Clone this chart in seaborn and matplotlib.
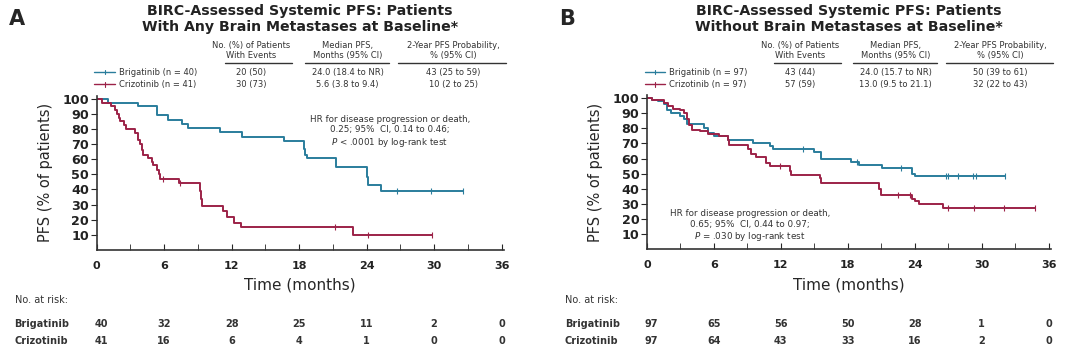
import numpy as np
import pandas as pd
import matplotlib
matplotlib.use("Agg")
import matplotlib.pyplot as plt
import matplotlib.transforms as mtrans
import seaborn as sns

# ---- data ----
# panel A: any brain metastases at baseline
a_brig_t = [0, 1.0, 3.7, 5.4, 6.3, 7.6, 8.1, 11.0, 12.9, 16.7, 18.4, 18.5, 18.7, 21.3, 24.0, 24.05, 24.1, 25.3, 32.6]
a_brig_s = [100, 97.5, 95, 89, 86, 83, 81, 78, 75, 72, 67, 63, 61, 55, 52, 48, 43, 39, 39]
a_brig_cens = [26.7, 29.7, 32.6]
a_criz_t = [0, 0.45, 1.3, 1.6, 1.8, 1.95, 2.1, 2.4, 2.6, 3.4, 3.7, 3.85, 4.0, 4.1, 4.6, 4.9, 5.0, 5.4, 5.5, 5.6, 7.3,
            9.2, 9.3, 9.4, 11.2, 11.6, 12.2, 12.8, 22.8, 29.8]
a_criz_s = [100, 97.5, 95, 92.5, 90, 87.5, 85, 82.5, 80, 77.5, 73, 70, 66, 63, 61, 58, 56, 53, 50, 47, 44,
            39, 34, 29, 26, 22, 18, 15, 10, 10]
a_criz_cens = [5.9, 7.4, 21.2, 24.1, 29.8]

# panel B: without brain metastases at baseline
b_brig_t = [0, 0.5, 1.0, 1.5, 1.8, 2.2, 3.0, 3.3, 3.6, 5.1, 5.5, 6.0, 7.3, 9.5, 11.0, 11.3, 15.0, 15.6,
            18.3, 19.0, 21.1, 21.4, 23.8, 24.0, 32.1]
b_brig_s = [100, 99, 98, 96, 92, 90, 88, 86, 83, 80, 77, 75, 72, 70, 68, 66, 64, 60,
            58, 56, 54, 53.5, 50, 48.5, 48.5]
b_brig_cens = [14.0, 18.8, 22.8, 26.8, 27.0, 27.9, 29.2, 29.5, 32.1]
b_criz_t = [0, 0.5, 1.5, 1.9, 2.3, 3.0, 3.3, 3.6, 3.8, 4.0, 4.8, 5.5, 6.5, 7.3, 7.4, 9.1, 9.3, 9.8, 10.7, 11.0,
            12.8, 12.9, 15.5, 15.6, 20.8, 21.0, 23.8, 24.0, 24.4, 26.5, 34.8]
b_criz_s = [100, 99, 97, 95, 93, 92, 90, 86, 82, 79, 78, 76, 75, 72, 69, 66, 63, 61, 57, 55,
            52, 49, 47, 44, 40, 36, 33, 32, 30, 27.5, 27.5]
b_criz_cens = [11.9, 22.5, 23.6, 27.0, 29.3, 32.0, 34.8]

risk_times = [0, 6, 12, 18, 24, 30, 36]
a_risk_brig = [40, 32, 28, 25, 11, 2, 0]
a_risk_criz = [41, 16, 6, 4, 1, 0, 0]
b_risk_brig = [97, 65, 56, 50, 28, 1, 0]
b_risk_criz = [97, 64, 43, 33, 16, 2, 0]

a_table = [["20 (50)", "24.0 (18.4 to NR)", "43 (25 to 59)"],
           ["30 (73)", "5.6 (3.8 to 9.4)", "10 (2 to 25)"]]
b_table = [["43 (44)", "24.0 (15.7 to NR)", "50 (39 to 61)"],
           ["57 (59)", "13.0 (9.5 to 21.1)", "32 (22 to 43)"]]

BLUE = "#2a7d9c"
RED = "#9c2248"

sns.set_style("ticks")
plt.rcParams['font.family'] = ['DejaVu Sans']

fig = plt.figure(figsize=(10.8, 3.56), dpi=100)


def step_value(ts, ss, t):
    idx = np.searchsorted(ts, t, side="right") - 1
    return ss[idx]


def panel(ax, letter, title, brig, criz, nb, nc, table, hr_text, hr_pos, risk_b, risk_c):
    for (t, s, cens), col in zip([brig, criz], [BLUE, RED]):
        df = pd.DataFrame({"t": t, "s": s})
        sns.lineplot(data=df, x="t", y="s", ax=ax, color=col, lw=1.4,
                     drawstyle="steps-post", estimator=None, sort=False)
        cdf = pd.DataFrame({"t": cens, "s": [step_value(t, s, c) for c in cens]})
        sns.scatterplot(data=cdf, x="t", y="s", ax=ax, color=col, marker="|", s=14, linewidth=0.8)

    ax.set_xlim(0, 36.2)
    ax.set_ylim(0, 102)
    ax.set_xticks(risk_times)
    ax.set_xticks(np.arange(0, 37, 3), minor=True)
    ax.set_yticks(np.arange(10, 101, 10))
    ax.tick_params(axis="x", direction="in", length=4, labelsize=8, pad=8)
    ax.tick_params(axis="x", which="minor", direction="in", length=4)
    ax.tick_params(axis="y", direction="out", length=4, labelsize=9.2, pad=1.5)
    for lab in ax.get_yticklabels() + ax.get_xticklabels():
        lab.set_fontweight("bold")
        lab.set_color("#222222")
    ax.set_xlabel("Time (months)", fontsize=11, labelpad=5)
    ax.set_ylabel("PFS (% of patients)", fontsize=10.5, labelpad=7)
    sns.despine(ax=ax)
    for sp in ["left", "bottom"]:
        ax.spines[sp].set_linewidth(1.2)
        ax.spines[sp].set_color("#333333")

    ax.text(*hr_pos, hr_text, transform=ax.transAxes, ha="center", va="top",
            fontsize=6.3, color="#333333", linespacing=1.2)

    # header, legend table, risk table in figure/axes coordinates
    bb = ax.get_position()
    x0 = bb.x0
    w = bb.width
    fig.text(x0 - 0.081, 0.975, letter, fontsize=15, fontweight="bold", va="top")
    fig.text(x0 + 0.5 * w, 0.988, title, fontsize=10.2, fontweight="bold", ha="center", va="top",
             linespacing=1.15, color="#222222")

    trans = mtrans.blended_transform_factory(ax.transData, fig.transFigure)
    cols = [(13.7, "No. (%) of Patients\nWith Events", 11.4, 17.4),
            (22.3, "Median PFS,\nMonths (95% CI)", 18.5, 26.0),
            (31.7, "2-Year PFS Probability,\n% (95% CI)", 26.8, 36.4)]
    for cx, head, u0, u1 in cols:
        ax.text(cx, 0.832, head, transform=trans, ha="center", va="bottom", fontsize=6,
                color="#333333", linespacing=1.1)
        ax.plot([u0, u1], [0.824, 0.824], transform=trans, color="#333333", lw=1.0, clip_on=False)
    rows_y = [0.797, 0.763]
    for (col, name), ry, vals in zip([(BLUE, nb), (RED, nc)], rows_y, table):
        ax.plot([-0.2, 1.6], [ry, ry], transform=trans, color=col, lw=1.0, clip_on=False)
        ax.plot([0.7, 0.7], [ry - 0.006, ry + 0.006], transform=trans, color=col, lw=0.8, clip_on=False)
        ax.text(2.0, ry, name, transform=trans, ha="left", va="center", fontsize=6, color="#333333")
        for (cx, _, _, _), v in zip(cols, vals):
            ax.text(cx, ry, v, transform=trans, ha="center", va="center", fontsize=6, color="#333333")

    fig.text(x0 - 0.076, 0.157, "No. at risk:", fontsize=7, color="#333333", va="center")
    for ry, name, vals in [(0.089, "Brigatinib", risk_b), (0.041, "Crizotinib", risk_c)]:
        fig.text(x0 - 0.076, ry, name, fontsize=7, color="#333333", va="center", fontweight="bold")
        for t, v in zip(risk_times, vals):
            ax.text(t + (0.4 if t == 0 else 0), ry, str(v), transform=trans, ha="center", va="center",
                    fontsize=7, color="#333333", fontweight="bold")


axA = fig.add_axes([0.0895, 0.298, 0.377, 0.433])
axB = fig.add_axes([0.599, 0.300, 0.374, 0.433])

panel(axA, "A", "BIRC-Assessed Systemic PFS: Patients\nWith Any Brain Metastases at Baseline*",
      (a_brig_t, a_brig_s, a_brig_cens), (a_criz_t, a_criz_s, a_criz_cens),
      "Brigatinib (n = 40)", "Crizotinib (n = 41)", a_table,
      "HR for disease progression or death,\n0.25; 95%  CI, 0.14 to 0.46;\n$P$ < .0001 by log-rank test",
      (0.72, 0.875), a_risk_brig, a_risk_criz)

panel(axB, "B", "BIRC-Assessed Systemic PFS: Patients\nWithout Brain Metastases at Baseline*",
      (b_brig_t, b_brig_s, b_brig_cens), (b_criz_t, b_criz_s, b_criz_cens),
      "Brigatinib (n = 97)", "Crizotinib (n = 97)", b_table,
      "HR for disease progression or death,\n0.65; 95%  CI, 0.44 to 0.97;\n$P$ = .030 by log-rank test",
      (0.255, 0.26), b_risk_brig, b_risk_criz)

fig.savefig("out.png", dpi=100)
